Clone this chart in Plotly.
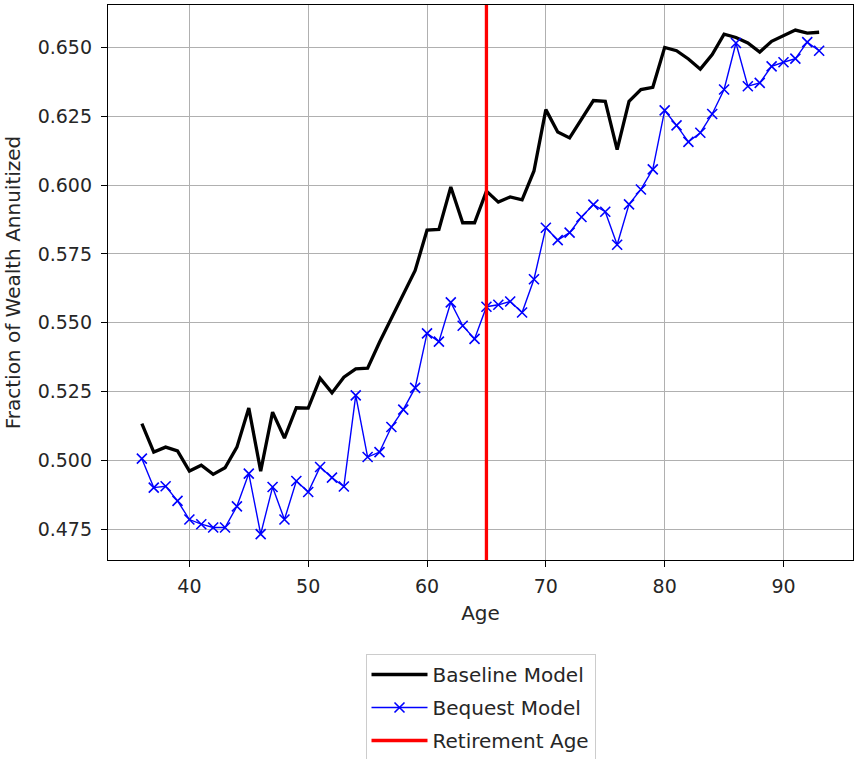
import plotly.graph_objects as go

ages = list(range(36, 94))

baseline = [
    0.5133, 0.5030, 0.5048, 0.5034, 0.4961, 0.4982, 0.4949, 0.4973, 0.5048, 0.5190,
    0.4961, 0.5175, 0.5081, 0.5191, 0.5190, 0.5298, 0.5245, 0.5302, 0.5332, 0.5335,
    0.5429, 0.5516, 0.5598, 0.5690, 0.5836, 0.5839, 0.5993, 0.5863, 0.5863, 0.5978,
    0.5938, 0.5957, 0.5946, 0.6051, 0.6274, 0.6193, 0.6171, 0.6238, 0.6307, 0.6304,
    0.6129, 0.6304, 0.6347, 0.6355, 0.6500, 0.6488, 0.6458, 0.6421, 0.6474, 0.6548,
    0.6536, 0.6516, 0.6483, 0.6522, 0.6542, 0.6563, 0.6552, 0.6555,
]

bequest = [
    0.5006, 0.4901, 0.4906, 0.4853, 0.4785, 0.4768, 0.4756, 0.4756, 0.4833, 0.4952,
    0.4732, 0.4903, 0.4785, 0.4925, 0.4885, 0.4976, 0.4937, 0.4905, 0.5236, 0.5012,
    0.5030, 0.5121, 0.5184, 0.5263, 0.5461, 0.5431, 0.5574, 0.5489, 0.5441, 0.5558,
    0.5565, 0.5577, 0.5537, 0.5658, 0.5845, 0.5800, 0.5827, 0.5884, 0.5929, 0.5903,
    0.5783, 0.5930, 0.5984, 0.6057, 0.6271, 0.6217, 0.6157, 0.6190, 0.6258, 0.6347,
    0.6516, 0.6359, 0.6371, 0.6431, 0.6446, 0.6459, 0.6519, 0.6488,
]

retirement_age = 65
x_range = [33.15, 95.85]
y_range = [0.4638, 0.6654]

x_ticks = [40, 50, 60, 70, 80, 90]
y_ticks = [0.475, 0.500, 0.525, 0.550, 0.575, 0.600, 0.625, 0.650]

fig = go.Figure()
fig.add_trace(go.Scatter(
    x=ages, y=baseline, mode="lines", name="Baseline Model", legendgroup="a",
    line=dict(color="black", width=3.3),
))
fig.add_trace(go.Scatter(
    x=ages, y=bequest, mode="lines+markers", name="Bequest Model", legendgroup="b",
    line=dict(color="blue", width=1.4),
    marker=dict(symbol="x-thin", size=10, line=dict(color="blue", width=1.6), color="blue"),
))
fig.add_trace(go.Scatter(
    x=[retirement_age, retirement_age], y=[y_range[0] - 1, y_range[1] + 1],
    mode="lines", name="Retirement Age", legendgroup="c",
    line=dict(color="red", width=3.3),
))

font_family = "DejaVu Sans"
txt = "#262626"
fig.update_layout(
    width=855, height=759,
    margin=dict(l=108, r=2, t=5, b=199, autoexpand=False),
    plot_bgcolor="white", paper_bgcolor="white",
    font=dict(family=font_family, size=19, color=txt),
    showlegend=True,
    legend=dict(
        x=0.5, xanchor="center", xref="paper",
        y=1 - 654 / 759, yanchor="top", yref="container",
        bordercolor="#cccccc", borderwidth=1, bgcolor="white",
        font=dict(family=font_family, size=20, color=txt),
        tracegroupgap=4, itemwidth=56,
    ),
)
fig.update_xaxes(
    range=x_range, tickvals=x_ticks, ticks="outside", ticklen=6, tickcolor="black",
    ticklabelstandoff=3,
    showline=True, linecolor="black", linewidth=1.3, mirror=True,
    showgrid=True, gridcolor="#b0b0b0", gridwidth=1, zeroline=False,
    title=dict(text="Age", font=dict(size=20, color=txt), standoff=10),
    tickfont=dict(size=19, color=txt),
)
fig.update_yaxes(
    range=y_range, tickvals=y_ticks, tickformat=".3f", ticks="outside", ticklen=6, tickcolor="black",
    ticklabelstandoff=5,
    showline=True, linecolor="black", linewidth=1.3, mirror=True,
    showgrid=True, gridcolor="#b0b0b0", gridwidth=1, zeroline=False,
    title=dict(text="Fraction of Wealth Annuitized", font=dict(size=20, color=txt), standoff=11),
    tickfont=dict(size=19, color=txt),
)

fig.write_html("out.html")
